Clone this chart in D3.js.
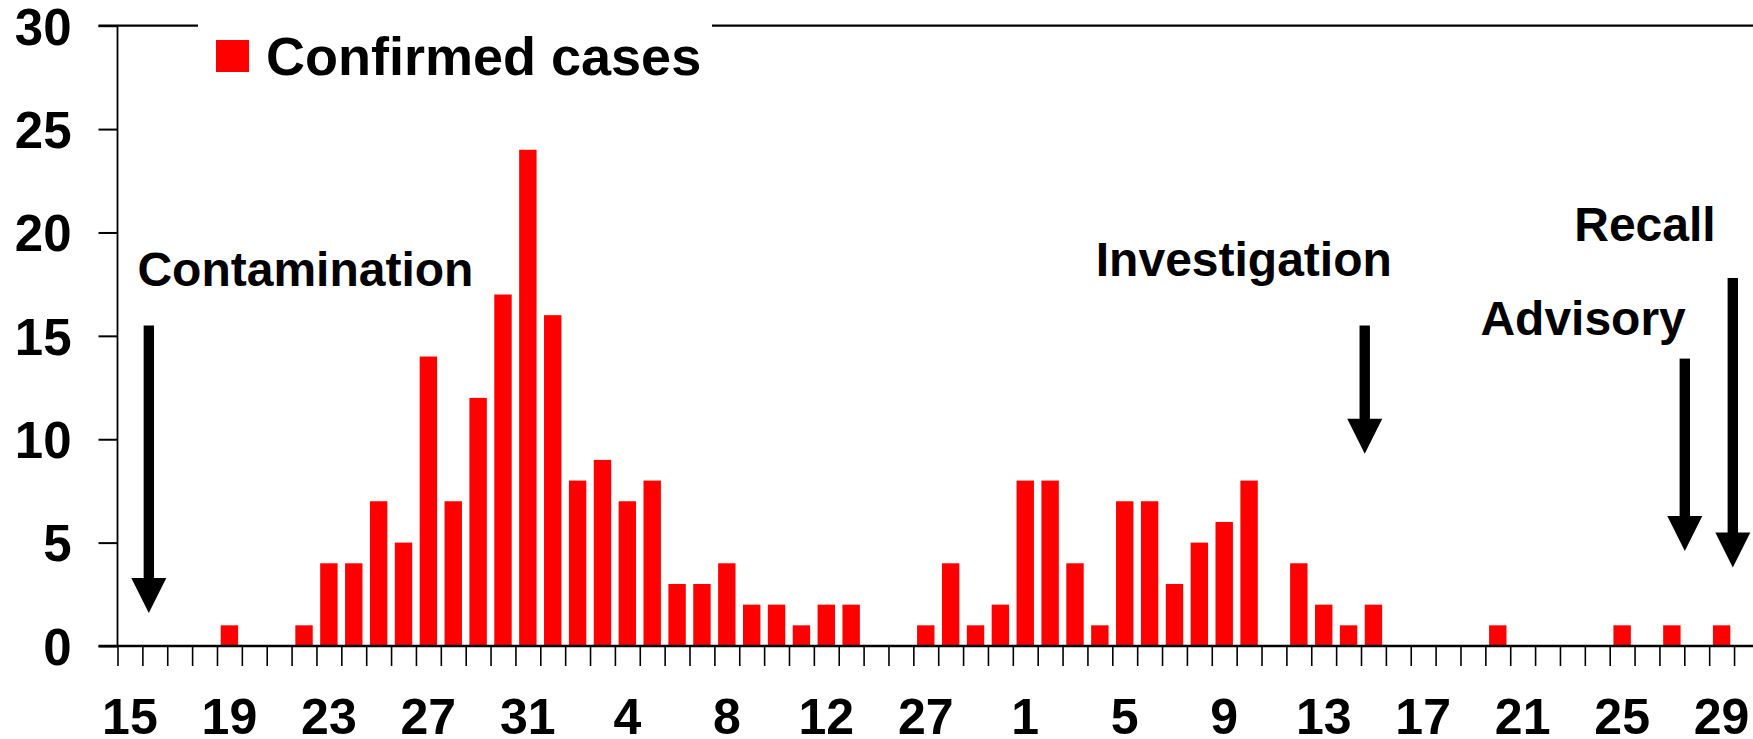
<!DOCTYPE html>
<html>
<head>
<meta charset="utf-8">
<script src="https://cdn.jsdelivr.net/npm/d3@7/dist/d3.min.js"></script>
<style>
  body { margin: 0; background: #fff; }
  svg { display: block; }
  text { font-family: "Liberation Sans", Arial, sans-serif; font-weight: bold; fill: #000; }
</style>
</head>
<body>
<div id="chart"></div>
<script>
// Day of month for every category (two breaks in the calendar are kept as in the original)
var days = [15,16,17,18,19,20,21,22,23,24,25,26,27,28,29,30,31,
            1,2,3,4,5,6,7,8,9,10,11,12,13,14,15,
            27,28,29,30,
            1,2,3,4,5,6,7,8,9,10,11,12,13,14,15,16,17,18,19,20,21,22,23,24,25,26,27,28,29,30]
var cases = [0,0,0,0,1,0,0,1,4,4,
             7,5,14,7,12,17,24,16,8,9,
             7,8,3,3,4,2,2,1,2,2,
             0,0,1,4,1,2,8,8,4,1,
             7,7,3,5,6,8,0,4,2,1,
             2,0,0,0,0,1,0,0,0,0,
             1,0,1,0,1,0]
var yTicks = [0, 5, 10, 15, 20, 25, 30]
var labelEvery = 4

// Events: position in day-index units, arrow top / tip in case units
var events = ['Contamination', 'Investigation', 'Advisory', 'Recall']
var eventDay = [1.26, 50.15, 63.02, 64.95]
var eventTop = [15.5, 15.5, 13.9, 17.8]
var eventTip = [1.6, 9.3, 4.6, 3.8]
// label placement (day-index, case units)
var eventLabelDay = [0.8, 51.24, 63.06, 64.26]
var eventLabelY = [17.4, 17.9, 15.05, 19.6]
var eventAnchor = ['start', 'end', 'end', 'end']

var W = 1753, H = 739
var plotLeft = 117.5, step = 24.87, plotBase = 646, plotTop = 25.7

var svg = d3.select('#chart').append('svg')
  .attr('width', W).attr('height', H)

var idx = d3.range(days.length)
var x = d3.scaleBand()
  .domain(idx)
  .range([plotLeft, plotLeft + step * days.length])
  .paddingInner(0.3)
  .paddingOuter(0.15)
var xi = d3.scaleLinear()
  .domain([0, days.length])
  .range([plotLeft, plotLeft + step * days.length])
var y = d3.scaleLinear().domain([0, 30]).range([plotBase, plotTop])

// Bars
svg.append('g').selectAll('rect')
  .data(idx.filter(function(i){ return cases[i] > 0 }))
  .enter().append('rect')
    .attr('x', function(i){ return x(i) })
    .attr('width', x.bandwidth())
    .attr('y', function(i){ return y(cases[i]) })
    .attr('height', function(i){ return y(0) - y(cases[i]) })
    .attr('fill', '#ff0000')

// Y axis
var yAxis = d3.axisLeft(y)
  .tickValues(yTicks)
  .tickSize(19)
  .tickPadding(27)
var gy = svg.append('g')
  .attr('transform', 'translate(' + plotLeft + ',0)')
  .call(yAxis)
gy.select('.domain').remove()
gy.selectAll('.tick line').attr('stroke', '#000').attr('stroke-width', 2)
gy.selectAll('.tick text')
  .attr('dy', '0.36em')
  .style('font-size', '51px')
  .style('font-family', '"Liberation Sans", Arial, sans-serif')
  .style('font-weight', 'bold')
  .attr('fill', '#000')

// X axis: ticks at every day boundary
var xTickAxis = d3.axisBottom(xi)
  .tickValues(d3.range(0, days.length + 1))
  .tickSize(20)
  .tickFormat('')
var gxt = svg.append('g')
  .attr('transform', 'translate(0,' + plotBase + ')')
  .call(xTickAxis)
gxt.select('.domain').remove()
gxt.selectAll('.tick line').attr('stroke', '#000').attr('stroke-width', 1.6)

// X axis labels every fourth day
var xLabelAxis = d3.axisBottom(x)
  .tickValues(idx.filter(function(i){ return i % labelEvery === 0 }))
  .tickFormat(function(i){ return days[i] })
  .tickSize(0)
  .tickPadding(52)
var gxl = svg.append('g')
  .attr('transform', 'translate(0,' + plotBase + ')')
  .call(xLabelAxis)
gxl.select('.domain').remove()
gxl.selectAll('.tick text')
  .style('font-size', '50px')
  .style('font-family', '"Liberation Sans", Arial, sans-serif')
  .style('font-weight', 'bold')
  .attr('fill', '#000')

// Frame lines: baseline, y axis line, top line
svg.append('line')
  .attr('x1', plotLeft - 19).attr('x2', W + 10)
  .attr('y1', y(0)).attr('y2', y(0))
  .attr('stroke', '#000').attr('stroke-width', 2.5)
svg.append('line')
  .attr('x1', plotLeft).attr('x2', plotLeft)
  .attr('y1', y(30)).attr('y2', y(0))
  .attr('stroke', '#000').attr('stroke-width', 1.8)
svg.append('line')
  .attr('x1', plotLeft - 19).attr('x2', W + 10)
  .attr('y1', y(30)).attr('y2', y(30))
  .attr('stroke', '#000').attr('stroke-width', 2.2)

// Legend (white box over the top line)
var legend = svg.append('g')
legend.append('rect')
  .attr('x', 198).attr('y', 12).attr('width', 514).attr('height', 80)
  .attr('fill', '#fff')
legend.append('rect')
  .attr('x', 216).attr('y', 40).attr('width', 33).attr('height', 32)
  .attr('fill', '#ff0000')
legend.append('text')
  .attr('x', 266).attr('y', 75)
  .style('font-size', '54px')
  .text('Confirmed cases')

// Event arrows and labels
var headH = 35, headW = 35, shaftW = 10.4
var ev = svg.append('g')
events.forEach(function(name, i){
  var cx = xi(eventDay[i])
  var yTop = y(eventTop[i]), yTip = y(eventTip[i])
  var yHead = yTip - headH
  ev.append('rect')
    .attr('x', cx - shaftW / 2).attr('y', yTop)
    .attr('width', shaftW).attr('height', yHead - yTop + 1)
    .attr('fill', '#000')
  ev.append('path')
    .attr('d', 'M' + (cx - headW / 2) + ',' + yHead + 'L' + (cx + headW / 2) + ',' + yHead + 'L' + cx + ',' + yTip + 'Z')
    .attr('fill', '#000')
  ev.append('text')
    .attr('x', xi(eventLabelDay[i]))
    .attr('y', y(eventLabelY[i]))
    .attr('text-anchor', eventAnchor[i])
    .style('font-size', '48px')
    .text(name)
})
</script>
</body>
</html>
